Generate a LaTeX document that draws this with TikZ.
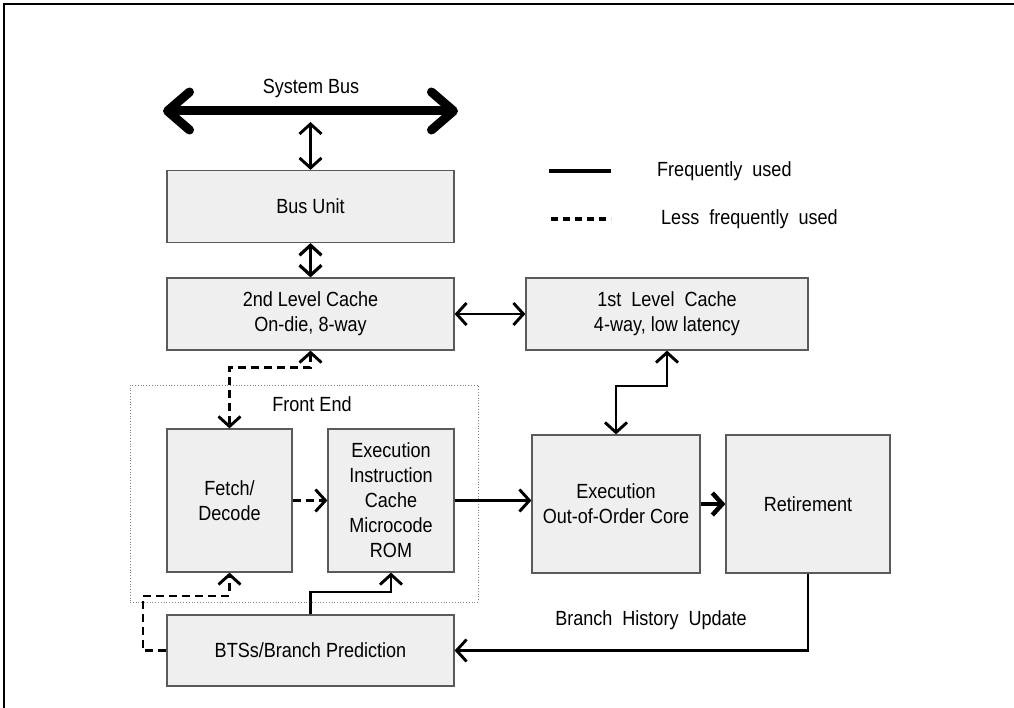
\documentclass[tikz,border=0pt]{standalone}
\usepackage{fontspec}
\setmainfont{Liberation Sans}[FakeStretch=0.88]
\usetikzlibrary{arrows.meta}
\definecolor{boxfill}{HTML}{EFEFEF}
\definecolor{boxline}{HTML}{5A5A5A}
\tikzset{
  txt/.style={font=\fontsize{20.5}{25}\selectfont, align=center, inner sep=0pt},
  block/.style={txt, draw=boxline, line width=1.2pt, fill=boxfill},
  freq/.style={line width=2.9pt, line join=miter},
  less/.style={line width=2.9pt, dash pattern=on 8pt off 5pt},
  >={Straight Barb[length=10pt,width=22pt]}
}
\begin{document}
\begin{tikzpicture}[x=1pt,y=-1pt]
\useasboundingbox (0,0) rectangle (1014,708);
% frame (top and left only)
\draw[line width=2pt] (3.5,708) -- (3.5,4.5) -- (1014,4.5);

% blocks
\node[block, minimum width=287pt, minimum height=72pt] (bus) at (310.5,206.5) {Bus Unit};
\node[block, minimum width=287pt, minimum height=72pt] (l2) at (310.5,314) {2nd Level Cache\\On-die, 8-way};
\node[block, minimum width=282pt, minimum height=72pt] (l1) at (667,314) {1st\ \ Level\ \ Cache\\4-way, low latency};
\node[draw=gray, line width=0.8pt, dotted, minimum width=348pt, minimum height=217pt] (fe) at (304,493.5) {};
\node[txt] (felabel) at (312,404) {Front End};
\node[block, minimum width=125pt, minimum height=143pt] (fetch) at (229.5,500.5) {Fetch/\\Decode};
\node[block, minimum width=126pt, minimum height=143pt] (icache) at (391,500.5) {Execution\\Instruction\\Cache\\Microcode\\ROM};
\node[block, minimum width=168pt, minimum height=138pt] (exec) at (616,504) {Execution\\Out-of-Order Core};
\node[block, minimum width=164pt, minimum height=138pt] (ret) at (808,504) {Retirement};
\node[block, minimum width=287pt, minimum height=71pt] (bts) at (310.5,650.5) {BTSs/Branch Prediction};

% system bus
\coordinate (sbL) at (163,111);
\coordinate (sbR) at (458,111);
\node[txt] (sblabel) at (311,88) {System Bus};
\draw[line width=9pt, line cap=round, {Straight Barb[length=22pt,width=38pt,line cap=round,line join=round]}-{Straight Barb[length=22pt,width=38pt,line cap=round,line join=round]}] (sbL) -- (sbR);
\coordinate (sbC) at (310.5,122);
\draw[freq, <->] (sbC) -- (bus.north);
\draw[freq, line width=3.2pt, <->] (bus.south) -- (l2.north);
\draw[freq, <->] (l2.east) -- (l1.west);
\draw[freq, <->] (exec.north) -- (exec.north |- 0,386) -- (l1.south |- 0,386) -- (l1.south);
\draw[freq, ->] (icache.east) -- (icache.east -| exec.west);
\draw[freq, line width=4.5pt, ->] (exec.east) -- (exec.east -| ret.west);
\draw[freq, ->] (ret.south) |- (bts.east);
\node[txt] (bhu) at (651,620) {Branch\ \ History\ \ Update};
\draw[freq, ->] (bts.north) -- (bts.north |- 0,592) -| (icache.south);
\coordinate (dl) at (143,596);
\draw[less, ->] (bts.west) -| (dl) -| (fetch.south);
\draw[less, ->] (fetch.east) -- (icache.west);
\draw[less, <->] (l2.south) -- ++(0,17) -| (fetch.north);

% legend
\coordinate (lg1a) at (549,171);
\coordinate (lg1b) at (611,171);
\coordinate (lg2a) at (551,219);
\coordinate (lg2b) at (611,219);
\draw[freq, line width=3.2pt] (lg1a) -- (lg1b);
\draw[less, line width=3.2pt, dash pattern=on 7pt off 5pt] (lg2a) -- (lg2b);
\node[txt, anchor=west] (lgt1) at (657,171) {Frequently\ \ used};
\node[txt, anchor=west] (lgt2) at (661,219) {Less\ \ frequently\ \ used};
\end{tikzpicture}
\end{document}
